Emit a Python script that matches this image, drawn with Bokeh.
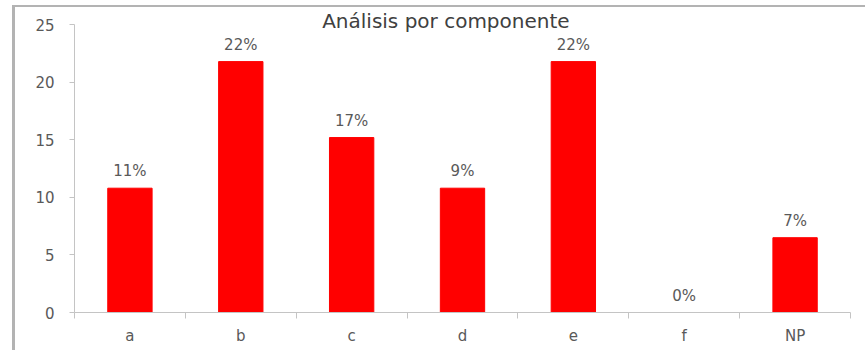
from bokeh.plotting import figure
from bokeh.models import FixedTicker, ColumnDataSource, Range1d, Label
from bokeh.core.properties import value
from bokeh.embed import file_html
from bokeh.resources import INLINE

# Component categories, counts and percentage labels
categories = ["a", "b", "c", "d", "e", "f", "NP"]
counts = [10.8, 21.8, 15.2, 10.8, 21.8, 0.0, 6.5]
pct_labels = ["11%", "22%", "17%", "9%", "22%", "0%", "7%"]
y_ticks = [0, 5, 10, 15, 20, 25]
title_text = "Análisis por componente"

FONT = "DejaVu Sans"
GRAY_TEXT = "#595959"
AXIS_GRAY = "#c4c4c4"

centers = [i + 0.5 for i in range(len(categories))]
src = ColumnDataSource(dict(x=centers, top=counts, lbl=pct_labels))

# the frame reaches a bit above 25 so the title sits inside it;
# the value axis itself stops at 25
p = figure(
    width=850, height=343,
    x_range=Range1d(0, len(categories)), y_range=Range1d(0, 26.5),
    output_backend="svg", toolbar_location=None,
    min_border_left=59, min_border_right=15,
    min_border_top=0, min_border_bottom=38,
)
p.frame_width = 776
p.frame_height = 305
p.margin = (5, 0, 0, 12)
p.styles = {"border-top": "2px solid #b3b3b3", "border-left": "3px solid #b3b3b3"}

p.outline_line_color = None
p.xgrid.grid_line_color = None
p.ygrid.grid_line_color = None
p.background_fill_color = "white"
p.border_fill_color = "white"

p.vbar(x="x", top="top", width=0.4, bottom=0, source=src,
       fill_color="#ff0000", line_color="#ff0000")

p.text(x="x", y="top", text="lbl", source=src, text_align="center",
       text_baseline="bottom", y_offset=-8, text_font=value(FONT),
       text_font_size="15px", text_color=GRAY_TEXT)

# x axis: category names at centers, tick marks at the boundaries
xa = p.xaxis[0]
xa.ticker = FixedTicker(ticks=centers, minor_ticks=list(range(len(categories) + 1)))
xa.major_label_overrides = {c: n for c, n in zip(centers, categories)}
xa.major_tick_out = 0
xa.major_tick_in = 0
xa.minor_tick_out = 6
xa.minor_tick_in = 0
xa.minor_tick_line_color = AXIS_GRAY
xa.axis_line_color = AXIS_GRAY
xa.major_label_text_font = FONT
xa.major_label_text_font_size = "15px"
xa.major_label_text_color = GRAY_TEXT
xa.major_label_standoff = 8

ya = p.yaxis[0]
ya.ticker = FixedTicker(ticks=y_ticks, minor_ticks=[])
ya.bounds = (0, 25)
ya.major_tick_out = 5
ya.major_tick_in = 0
ya.major_tick_line_color = AXIS_GRAY
ya.axis_line_color = AXIS_GRAY
ya.minor_tick_line_color = None
ya.major_label_text_font = FONT
ya.major_label_text_font_size = "15px"
ya.major_label_text_color = GRAY_TEXT
ya.major_label_standoff = 15

p.add_layout(Label(x=3.35, y=25.3, text=title_text, text_align="center",
                   text_baseline="alphabetic", text_font=FONT,
                   text_font_size="20px", text_color="#404040"))

open("out.html", "w").write(file_html(p, INLINE))
